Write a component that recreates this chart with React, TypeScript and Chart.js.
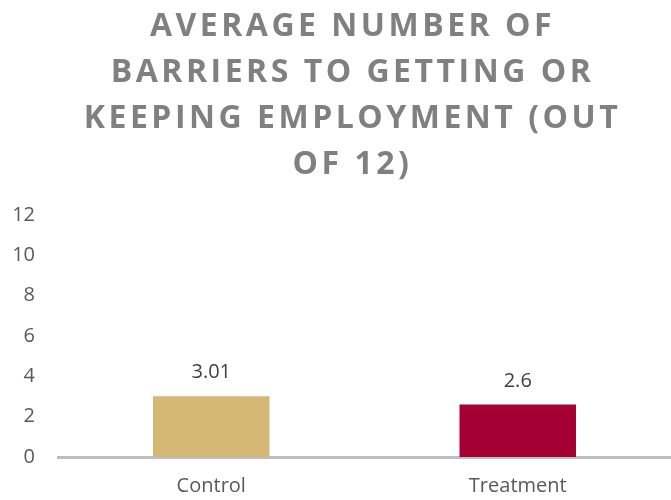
import React, { useEffect, useRef } from "react";
import { Chart, registerables } from "chart.js";

Chart.register(...registerables);

const titleLines = ["AVERAGE NUMBER OF", "BARRIERS TO GETTING OR", "KEEPING EMPLOYMENT (OUT", "OF 12)"];
const categories = ["Control", "Treatment"];
const values = [3.01, 2.6];
const barColors = ["#D5B874", "#A50034"];
const yMin = 0;
const yMax = 12;
const yStep = 2;

const FONT = "'Open Sans', sans-serif";

const titlePlugin = {
  id: "spacedTitle",
  afterDraw(chart: any) {
    const ctx = chart.ctx;
    ctx.save();
    ctx.fillStyle = "#808080";
    ctx.font = `bold 32px ${FONT}`;
    (ctx as any).letterSpacing = "3.5px";
    ctx.textAlign = "center";
    ctx.textBaseline = "alphabetic";
    const cx = chart.width / 2 + 17;
    titleLines.forEach((line, i) => {
      ctx.fillText(line, cx, 36 + i * 46);
    });
    ctx.restore();
  },
};

const valueLabelPlugin = {
  id: "valueLabels",
  afterDatasetsDraw(chart: any) {
    const ctx = chart.ctx;
    const meta = chart.getDatasetMeta(0);
    ctx.save();
    ctx.fillStyle = "#404040";
    ctx.font = `20px ${FONT}`;
    ctx.textAlign = "center";
    ctx.textBaseline = "alphabetic";
    meta.data.forEach((bar: any, i: number) => {
      ctx.fillText(String(values[i]), bar.x, bar.y - 18);
    });
    ctx.restore();
  },
};

export default function App() {
  const ref = useRef<HTMLCanvasElement | null>(null);
  useEffect(() => {
    document.body.style.margin = "0";
    const chart = new Chart(ref.current as HTMLCanvasElement, {
      type: "bar",
      data: {
        labels: categories,
        datasets: [
          {
            data: values,
            backgroundColor: barColors,
            borderWidth: 0,
            barPercentage: 0.38,
            categoryPercentage: 1,
          },
        ],
      },
      options: {
        animation: false,
        responsive: false,
        maintainAspectRatio: false,
        layout: { padding: { top: 215, left: 12, right: 0, bottom: 2 } },
        plugins: {
          legend: { display: false },
          title: { display: false },
          tooltip: { enabled: false },
        },
        scales: {
          x: {
            grid: { display: false, drawTicks: false },
            border: { display: true, color: "#BFBFBF", width: 3 },
            ticks: { color: "#595959", font: { family: FONT, size: 20 }, padding: 17 },
            afterFit: (scale: any) => {
              scale.height = 41;
            },
          },
          y: {
            min: yMin,
            max: yMax,
            grid: { display: false, drawTicks: false },
            border: { display: false },
            ticks: {
              stepSize: yStep,
              color: "#595959",
              font: { family: FONT, size: 20 },
              padding: 23,
            },
            afterFit: (scale: any) => {
              scale.width = 46;
            },
          },
        },
      },
      plugins: [titlePlugin, valueLabelPlugin],
    });
    return () => chart.destroy();
  }, []);
  return (
    <div style={{ width: 671, height: 500, overflow: "hidden" }}>
      <canvas ref={ref} width={671} height={500} style={{ display: "block" }} />
    </div>
  );
}
